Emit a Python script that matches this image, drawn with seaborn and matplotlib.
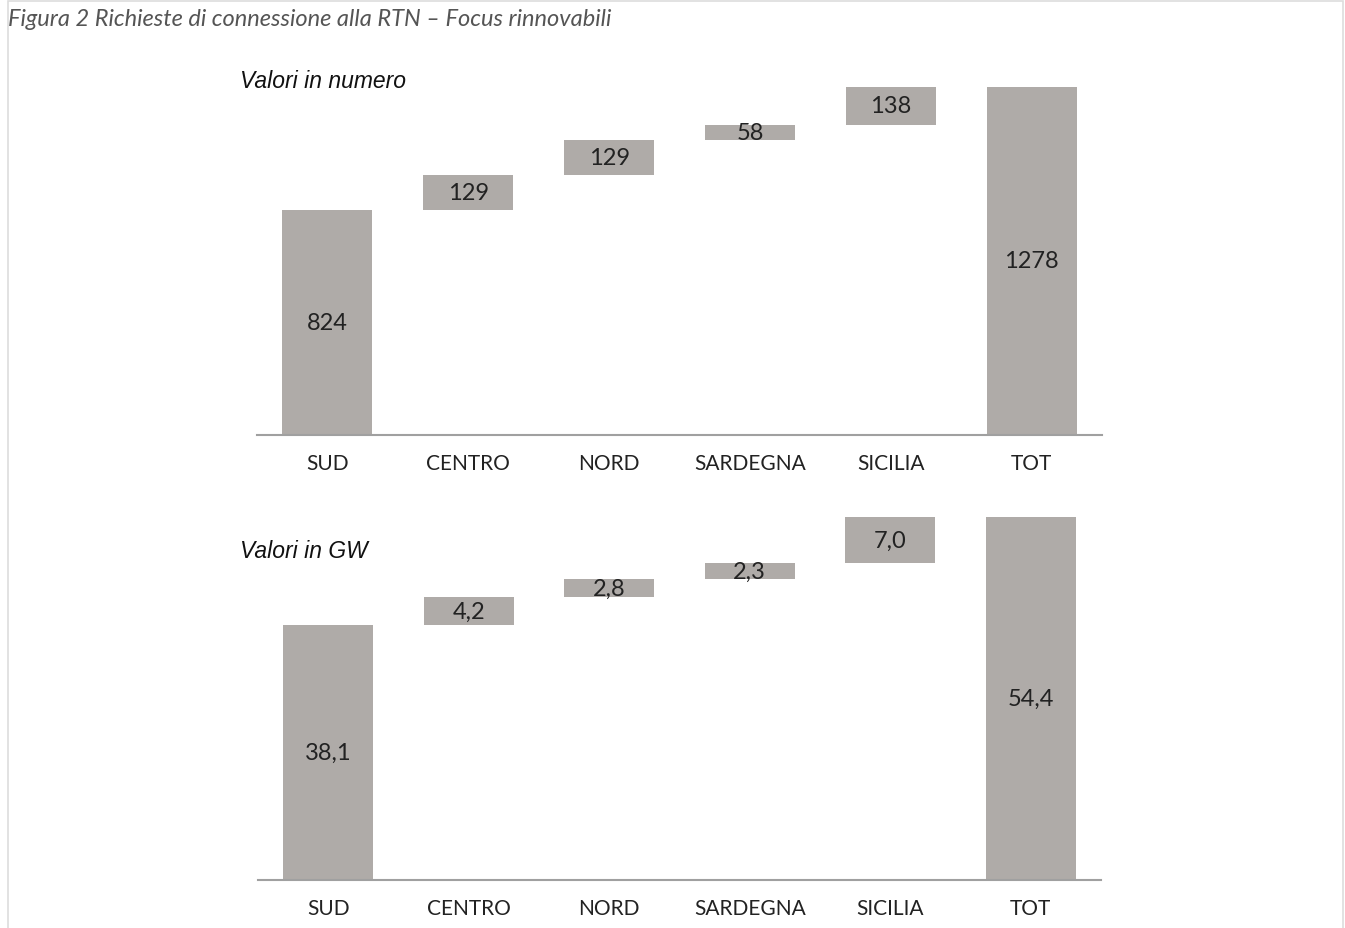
import numpy as np
import pandas as pd
import matplotlib.pyplot as plt
import seaborn as sns
from matplotlib.patches import Rectangle

regions = ['SUD', 'CENTRO', 'NORD', 'SARDEGNA', 'SICILIA', 'TOT']
count_values = [824, 129, 129, 58, 138, 1278]
count_labels = ['824', '129', '129', '58', '138', '1278']
gw_values = [38.1, 4.2, 2.8, 2.3, 7.0, 54.4]
gw_labels = ['38,1', '4,2', '2,8', '2,3', '7,0', '54,4']

BAR = '#afaba8'

sns.set_theme(style='white')
plt.rcParams['font.family'] = ['Lato', 'DejaVu Sans']

fig = plt.figure(figsize=(13.45, 9.29), dpi=100)


def waterfall(ax, values, labels):
    vals = np.array(values, dtype=float)
    # each step starts where the previous ones ended, total from zero
    bottoms = np.concatenate([[0], np.cumsum(vals[:-2])])
    bottoms = np.append(bottoms, 0)
    df = pd.DataFrame({'region': regions, 'value': vals, 'bottom': bottoms})
    sns.barplot(data=df, x='region', y='value', bottom=df['bottom'], color=BAR,
                width=0.64, saturation=1, ax=ax, edgecolor='none')
    for i, (v, b, lab) in enumerate(zip(vals, bottoms, labels)):
        ax.text(i, b + v / 2, lab, ha='center', va='center', fontsize=17, color='#222222')
    ax.set_xlim(-0.5, 5.5)
    ax.set_ylim(0, vals[-1])
    ax.set_xlabel('')
    ax.set_ylabel('')
    ax.set_yticks([])
    for s in ['top', 'right', 'left']:
        ax.spines[s].set_visible(False)
    ax.spines['bottom'].set_color('#a0a0a0')
    ax.spines['bottom'].set_linewidth(1.5)
    ax.tick_params(axis='x', length=0, pad=13, labelsize=15, labelcolor='#222222')
    ax.patch.set_alpha(0)


ax1 = fig.add_axes([257 / 1345, 1 - 435.5 / 929, 845 / 1345, 347.5 / 929])
waterfall(ax1, count_values, count_labels)
ax2 = fig.add_axes([258 / 1345, 1 - 880.5 / 929, 843 / 1345, 363 / 929])
waterfall(ax2, gw_values, gw_labels)

fig.text(240 / 1345, 1 - 82 / 929, 'Valori in numero', family='Liberation Sans',
         style='italic', fontsize=16.5, color='#111111', va='center', ha='left')
fig.text(240 / 1345, 1 - 552 / 929, 'Valori in GW', family='Liberation Sans',
         style='italic', fontsize=16.5, color='#111111', va='center', ha='left')
fig.text(8 / 1345, 1 - 19 / 929, 'Figura 2 Richieste di connessione alla RTN – Focus rinnovabili',
         style='italic', fontsize=17, color='#555555', va='center', ha='left')

# thin page frame
fig.patches.append(Rectangle((8 / 1345, -0.01), (1343 - 8) / 1345, 1 - 2 / 929 + 0.01,
                             transform=fig.transFigure, fill=False,
                             edgecolor='#dddddd', linewidth=1.2))

fig.savefig('out.png', dpi=100)
